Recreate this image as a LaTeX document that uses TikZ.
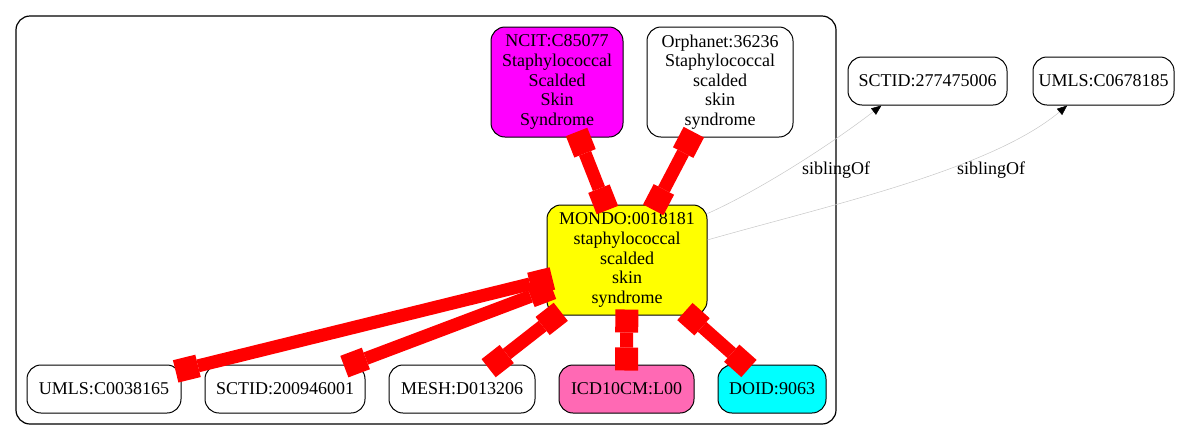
\documentclass[tikz,border=0pt]{standalone}
\usepackage{fontspec}
\setmainfont{Liberation Serif}
\usetikzlibrary{arrows.meta}
\definecolor{hotpink}{HTML}{FF69B4}
\definecolor{mgnt}{HTML}{FF00FF}
\definecolor{cyn}{HTML}{00FFFF}
\definecolor{ylw}{HTML}{FFFF00}
\definecolor{rd}{HTML}{FF0000}
\begin{document}
\begin{tikzpicture}[x=1pt,y=-1pt,
  nd/.style={draw=black, line width=1pt, rounded corners=14pt, inner sep=0pt, align=center, font=\fontsize{18}{19.6}\selectfont},
  redge/.style={draw=rd, line width=13pt, {Square[length=23pt,width=23pt,line width=0pt,color=rd]}-{Square[length=23pt,width=23pt,line width=0pt,color=rd]}, shorten <=-6pt, shorten >=-6pt},
  gedge/.style={draw=black!22, line width=0.5pt, -{Triangle[length=10pt,width=8pt,color=black]}},
  lbl/.style={font=\fontsize{18}{19.6}\selectfont, inner sep=0pt}]
\useasboundingbox (0,0) rectangle (1191,440);
\draw[line width=1.2pt, rounded corners=14pt] (16,16) rectangle (836,424);

\node[nd, minimum width=132pt, minimum height=110pt, fill=mgnt] (ncit) at (557,82) {NCIT:C85077\\Staphylococcal\\Scalded\\Skin\\Syndrome};
\node[nd, minimum width=146pt, minimum height=110pt, fill=white] (orpha) at (720,82) {Orphanet:36236\\Staphylococcal\\scalded\\skin\\syndrome};
\node[nd, minimum width=160pt, minimum height=110pt, fill=ylw] (mondo) at (627,260) {MONDO:0018181\\staphylococcal\\scalded\\skin\\syndrome};
\node[nd, minimum width=154pt, minimum height=48pt, fill=white] (umls1) at (104,389) {UMLS:C0038165};
\node[nd, minimum width=160pt, minimum height=48pt, fill=white] (sct1) at (285,389) {SCTID:200946001};
\node[nd, minimum width=146pt, minimum height=48pt, fill=white] (mesh) at (462,389) {MESH:D013206};
\node[nd, minimum width=135pt, minimum height=48pt, fill=hotpink] (icd) at (626.5,389) {ICD10CM:L00};
\node[nd, minimum width=108pt, minimum height=48pt, fill=cyn] (doid) at (772,389) {DOID:9063};
\node[nd, minimum width=159pt, minimum height=48pt, fill=white] (sct2) at (927.5,81) {SCTID:277475006};
\node[nd, minimum width=141pt, minimum height=48pt, fill=white] (umls2) at (1103.5,81) {UMLS:C0678185};

\draw[redge] (ncit) -- (mondo);
\draw[redge] (orpha) -- (mondo);
\draw[redge] (mondo) -- (umls1);
\draw[redge] (mondo) -- (sct1);
\draw[redge] (mondo) -- (mesh);
\draw[redge] (mondo) -- (icd);
\draw[redge] (mondo) -- (doid);

\draw[gedge] (mondo.30) .. controls (760,190) and (830,145) .. (sct2.208);
\draw[gedge] (mondo.14) .. controls (830,205) and (990,170) .. (umls2.214);
\node[lbl] (l1) at (836,170) {siblingOf};
\node[lbl] (l2) at (991,170) {siblingOf};
\end{tikzpicture}
\end{document}
